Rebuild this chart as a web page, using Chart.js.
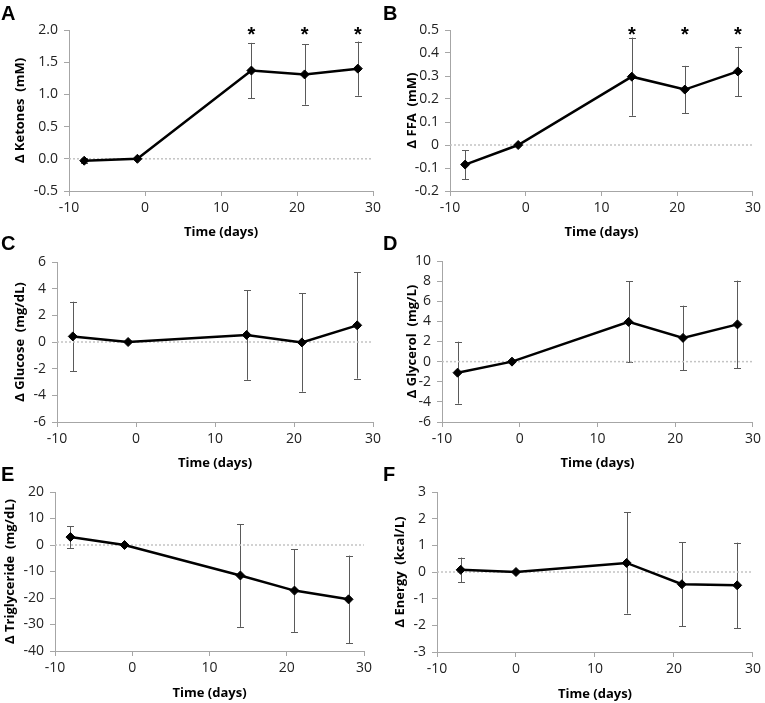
<!DOCTYPE html>
<html>
<head>
<meta charset="utf-8">
<script src="https://cdn.jsdelivr.net/npm/chart.js@4.4.1/dist/chart.umd.min.js"></script>
<style>
  html, body { margin: 0; padding: 0; background: #ffffff; }
  #wrap { position: relative; width: 765px; height: 703px; overflow: hidden; background: #fff; }
  canvas { position: absolute; }
  .lbl { position: absolute; font-family: "Liberation Sans", Arial, sans-serif; font-weight: bold; font-size: 20px; line-height: 20px; color: #000; }
</style>
</head>
<body>
<div id="wrap">
  <canvas id="cA"></canvas><canvas id="cB"></canvas>
  <canvas id="cC"></canvas><canvas id="cD"></canvas>
  <canvas id="cE"></canvas><canvas id="cF"></canvas>
  <div class="lbl" style="left:1px;top:3px">A</div>
  <div class="lbl" style="left:383px;top:3px">B</div>
  <div class="lbl" style="left:1px;top:233px">C</div>
  <div class="lbl" style="left:383px;top:233px">D</div>
  <div class="lbl" style="left:1px;top:464px">E</div>
  <div class="lbl" style="left:383px;top:464px">F</div>
</div>
<script>
// ---------- DATA ----------
const days        = [-8, -1, 14, 21, 28];
const daysEnergy  = [-7, 0, 14, 21, 28];
const xTickLabels = ['-10', '0', '10', '20', '30'];
const zeroLineX   = [-10, 30];

const ketones      = [-0.03, 0, 1.37, 1.31, 1.40];
const ketonesErr   = [0.04, 0, 0.43, 0.47, 0.42];
const ketonesSig   = [false, false, true, true, true];
const ketonesTicks = ['-0.5', '0.0', '0.5', '1.0', '1.5', '2.0'];

const ffa      = [-0.085, 0, 0.297, 0.241, 0.32];
const ffaErr   = [0.063, 0, 0.17, 0.103, 0.107];
const ffaSig   = [false, false, true, true, true];
const ffaTicks = ['-0.2', '-0.1', '0', '0.1', '0.2', '0.3', '0.4', '0.5'];

const glucose      = [0.42, 0, 0.53, -0.03, 1.25];
const glucoseErr   = [2.6, 0, 3.37, 3.7, 4.0];
const glucoseTicks = ['-6', '-4', '-2', '0', '2', '4', '6'];

const glycerol      = [-1.1, 0, 3.95, 2.36, 3.7];
const glycerolErr   = [3.08, 0, 4.02, 3.2, 4.35];
const glycerolTicks = ['-6', '-4', '-2', '0', '2', '4', '6', '8', '10'];

const triglyceride      = [3.0, 0, -11.5, -17.2, -20.5];
const triglycerideErr   = [4.1, 0, 19.4, 15.6, 16.5];
const triglycerideTicks = ['-40', '-30', '-20', '-10', '0', '10', '20'];

const energy      = [0.08, 0, 0.34, -0.46, -0.5];
const energyErr   = [0.46, 0, 1.9, 1.57, 1.6];
const energyTicks = ['-3', '-2', '-1', '0', '1', '2', '3'];

// ---------- PLUGINS ----------
const errorBarPlugin = {
  id: 'errorBars',
  beforeDatasetsDraw(chart, args, opts) {
    const err = opts.err; if (!err) return;
    const ds = chart.data.datasets[0];
    const xs = chart.scales.x, ys = chart.scales.y, ctx = chart.ctx;
    ctx.save();
    ctx.strokeStyle = '#5a5a5a';
    ctx.lineWidth = 1;
    ds.data.forEach((p, i) => {
      const e = err[i]; if (!e) return;
      const px = Math.round(xs.getPixelForValue(p.x)) + 0.5;
      const yt = ys.getPixelForValue(p.y + e);
      const yb = ys.getPixelForValue(p.y - e);
      ctx.beginPath();
      ctx.moveTo(px, yt); ctx.lineTo(px, yb);
      ctx.moveTo(px - 3.5, Math.round(yt) + 0.5); ctx.lineTo(px + 3.5, Math.round(yt) + 0.5);
      ctx.moveTo(px - 3.5, Math.round(yb) + 0.5); ctx.lineTo(px + 3.5, Math.round(yb) + 0.5);
      ctx.stroke();
    });
    ctx.restore();
  }
};
const starPlugin = {
  id: 'stars',
  afterDatasetsDraw(chart, args, opts) {
    const sig = opts.sig; if (!sig) return;
    const ds = chart.data.datasets[0];
    const xs = chart.scales.x, ctx = chart.ctx;
    ctx.save();
    ctx.fillStyle = '#000';
    ctx.font = 'bold 20px "Liberation Sans", Arial, sans-serif';
    ctx.textAlign = 'center';
    ctx.textBaseline = 'alphabetic';
    ds.data.forEach((p, i) => {
      if (!sig[i]) return;
      ctx.fillText('*', xs.getPixelForValue(p.x), chart.chartArea.top + 11);
    });
    ctx.restore();
  }
};

// ---------- PANELS ----------
const TICK_FONT  = { family: '"Open Sans", sans-serif', size: 14 };
const TITLE_FONT = { family: '"Open Sans", sans-serif', size: 13, weight: 'bold', lineHeight: 1.2 };
const AXIS_GRAY = '#a6a6a6';

function makePanel(id, box, area, yTitleX, xs, ys, err, yLabels, yTitle, sig) {
  const cv = document.getElementById(id);
  cv.width = box.w; cv.height = box.h;
  cv.style.left = box.x + 'px'; cv.style.top = box.y + 'px';
  cv.style.width = box.w + 'px'; cv.style.height = box.h + 'px';
  const yVals = yLabels.map(Number);
  const xVals = xTickLabels.map(Number);
  const lh = TITLE_FONT.size * TITLE_FONT.lineHeight;
  new Chart(cv, {
    type: 'scatter',
    data: {
      datasets: [
        {
          data: xs.map((x, i) => ({ x: x, y: ys[i] })),
          showLine: true, borderColor: '#000', backgroundColor: '#000',
          borderWidth: 2.5, pointStyle: 'rectRot', pointRadius: 4.5,
          pointBorderWidth: 1, pointBorderColor: '#000', order: 1
        },
        {
          data: zeroLineX.map(x => ({ x: x, y: 0 })),
          showLine: true, borderColor: '#c4c4c4', borderWidth: 1.5,
          borderDash: [2, 2], pointRadius: 0, order: 2
        }
      ]
    },
    options: {
      responsive: false, animation: false, devicePixelRatio: 1,
      layout: { padding: { left: 0, bottom: 0, top: area.T - box.y, right: box.x + box.w - area.R } },
      plugins: {
        legend: { display: false }, tooltip: { enabled: false },
        errorBars: { err: err }, stars: { sig: sig }
      },
      scales: {
        x: {
          type: 'linear', min: xVals[0], max: xVals[xVals.length - 1],
          afterBuildTicks: s => { s.ticks = xVals.map(v => ({ value: v })); },
          afterFit: s => { s.height = box.y + box.h - area.B; },
          ticks: { font: TICK_FONT, color: '#222', padding: 4,
                   callback: (v, i) => xTickLabels[i] },
          grid: { drawOnChartArea: false, drawTicks: true, tickLength: 5, color: AXIS_GRAY },
          border: { color: AXIS_GRAY, width: 1 },
          title: { display: true, text: 'Time (days)', font: TITLE_FONT, color: '#000', padding: { top: 0, bottom: 0 } }
        },
        y: {
          type: 'linear', min: yVals[0], max: yVals[yVals.length - 1],
          afterBuildTicks: s => { s.ticks = yVals.map(v => ({ value: v })); },
          afterFit: s => { s.width = area.L - box.x; },
          ticks: { font: TICK_FONT, color: '#222', padding: 6,
                   callback: (v, i) => yLabels[i] },
          grid: { drawOnChartArea: false, drawTicks: true, tickLength: 5, color: AXIS_GRAY },
          border: { color: AXIS_GRAY, width: 1 },
          title: { display: true, text: yTitle, font: TITLE_FONT, color: '#000',
                   padding: { top: yTitleX - box.x - lh / 2, bottom: 0 } }
        }
      }
    },
    plugins: [errorBarPlugin, starPlugin]
  });
}

const TL = 7.8; // half title line height
makePanel('cA', { x: 0,   y: 0,   w: 390, h: Math.round(232 + TL) },       { L: 69,  R: 373, T: 30,  B: 191 }, 20,  days, ketones, ketonesErr, ketonesTicks, 'Δ Ketones  (mM)', ketonesSig);
makePanel('cB', { x: 380, y: 0,   w: 385, h: Math.round(232 + TL) },       { L: 450, R: 756, T: 30,  B: 191 }, 412, days, ffa, ffaErr, ffaTicks, 'Δ FFA  (mM)', ffaSig);
makePanel('cC', { x: 0,   y: 228, w: 390, h: Math.round(463 + TL - 228) }, { L: 57,  R: 373, T: 262, B: 422 }, 20,  days, glucose, glucoseErr, glucoseTicks, 'Δ Glucose  (mg/dL)', null);
makePanel('cD', { x: 380, y: 228, w: 385, h: Math.round(463 + TL - 228) }, { L: 442, R: 756, T: 261, B: 422 }, 412, days, glycerol, glycerolErr, glycerolTicks, 'Δ Glycerol  (mg/L)', null);
makePanel('cE', { x: 0,   y: 462, w: 390, h: Math.round(693 + TL - 462) }, { L: 55,  R: 364, T: 492, B: 651 }, 10,  days, triglyceride, triglycerideErr, triglycerideTicks, 'Δ Triglyceride  (mg/dL)', null);
makePanel('cF', { x: 380, y: 462, w: 385, h: Math.round(694 + TL - 462) }, { L: 437, R: 756, T: 492, B: 652 }, 400, daysEnergy, energy, energyErr, energyTicks, 'Δ Energy  (kcal/L)', null);
</script>
</body>
</html>
